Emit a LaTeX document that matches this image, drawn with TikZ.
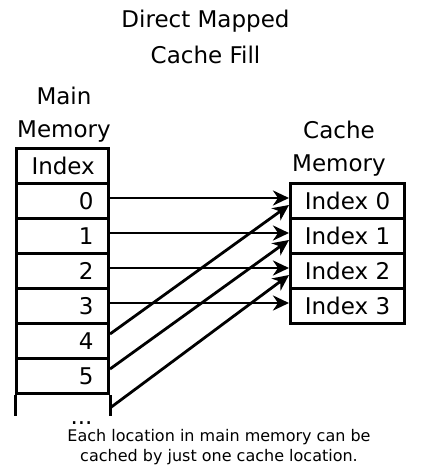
\documentclass[tikz,border=0pt]{standalone}
\usepackage{fontspec}
\setmainfont{DejaVu Sans}
\usetikzlibrary{arrows.meta}
\tikzset{
  memcell/.style={draw,line width=3pt,minimum height=35pt,inner sep=0pt,
    inner xsep=15pt,text width=62pt,align=right},
  cachecell/.style={draw,line width=3pt,minimum width=114pt,minimum height=35pt,inner sep=0pt},
  heading/.style={inner sep=0pt,align=center,anchor=north},
  link/.style={-{Stealth[length=16pt,width=15pt,inset=5pt]},line width=2.8pt},
}
\begin{document}
\begin{tikzpicture}[x=1pt,y=-1pt,font=\fontsize{23}{33}\selectfont]
\useasboundingbox (0,0) rectangle (432,475);
\node[heading,font=\fontsize{23}{36}\selectfont] (title) at (205.5,9.5) {Direct Mapped\\Cache Fill};
\node[heading] (mainlbl) at (64,86.5) {Main\\Memory};
\node[heading] (cachelbl) at (339,121) {Cache\\Memory};
% main memory
\node[memcell,align=center,anchor=north west] (mi) at (15,147) {Index};
\node[memcell,anchor=north west] (m0) at (15,182) {0};
\node[memcell,anchor=north west] (m1) at (15,217) {1};
\node[memcell,anchor=north west] (m2) at (15,252) {2};
\node[memcell,anchor=north west] (m3) at (15,287) {3};
\node[memcell,anchor=north west] (m4) at (15,322) {4};
\node[memcell,anchor=north west] (m5) at (15,357) {5};
\draw[line width=3pt] (m5.south west) -- ++(0,21);
\draw[line width=3pt] (m5.south east) -- ++(0,21);
\node[anchor=base] (dots) at (81.5,424) {...};
% cache memory
\node[cachecell,anchor=north west] (c0) at (289,182) {Index 0};
\node[cachecell,anchor=north west] (c1) at (289,217) {Index 1};
\node[cachecell,anchor=north west] (c2) at (289,252) {Index 2};
\node[cachecell,anchor=north west] (c3) at (289,287) {Index 3};
% mapping
\draw[link] ([yshift=3pt]m0.east) -- ([yshift=3pt]c0.west);
\draw[link] ([yshift=3pt]m1.east) -- ([yshift=3pt]c1.west);
\draw[link] ([yshift=3pt]m2.east) -- ([yshift=3pt]c2.west);
\draw[link] ([yshift=3pt]m3.east) -- ([yshift=3pt]c3.west);
\draw[link] ([yshift=7pt]m4.east) -- ([yshift=-4pt]c0.west);
\draw[link] ([yshift=7pt]m5.east) -- ([yshift=-4pt]c1.west);
\draw[link] ([yshift=-13pt]m5.south east) -- ([yshift=-4pt]c2.west);
\node[heading,font=\fontsize{16}{20}\selectfont] (note) at (219,429.5)
  {Each location in main memory can be\\cached by just one cache location.};
\end{tikzpicture}
\end{document}
